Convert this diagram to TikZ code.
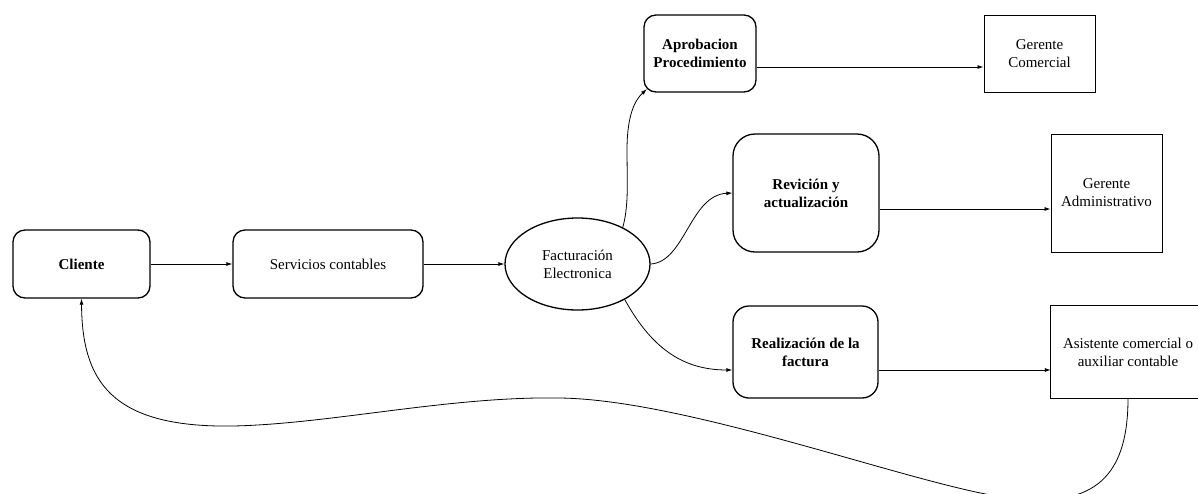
\documentclass[tikz,border=0pt]{standalone}
\usepackage{fontspec}
\setmainfont{Liberation Serif}
\usetikzlibrary{arrows.meta,shapes.geometric,calc}
\begin{document}
\begin{tikzpicture}[x=1pt,y=-1pt,
  txt/.style={font=\fontsize{15}{18}\selectfont},
  bftxt/.style={font=\fontsize{15}{18}\selectfont\bfseries},
  rbox/.style={draw,line width=1.3pt,rounded corners=12pt,align=center,inner sep=2pt},
  sbox/.style={draw,line width=1pt,align=center,inner sep=2pt},
  link/.style={-{Latex[length=6pt,width=4pt]},line width=0.8pt}]
\fill[white] (0,0) rectangle (1198,493);
\useasboundingbox (0,0) rectangle (1198,493);

% main chain
\node[rbox,bftxt,minimum width=137pt,minimum height=68pt] (cli) at (81.5,264) {Cliente};
\node[rbox,txt,minimum width=190pt,minimum height=68pt] (ser) at (328,264) {Servicios contables};
\node[draw,ellipse,line width=1.3pt,txt,align=center,inner sep=0pt,
      minimum width=145pt,minimum height=92pt] (fac) at (577.5,264) {Facturación\\Electronica};

% process steps
\node[rbox,bftxt,minimum width=112pt,minimum height=77pt] (apr) at (700,53.5) {Aprobacion\\Procedimiento};
\node[rbox,bftxt,rounded corners=22pt,minimum width=146pt,minimum height=118pt] (rev) at (806,193) {Revición y\\actualización};
\node[rbox,bftxt,rounded corners=16pt,minimum width=145pt,minimum height=92pt] (rea) at (805.5,352) {Realización de la\\factura};

% responsible roles
\node[sbox,txt,minimum width=111pt,minimum height=77pt] (gco) at (1039.5,53.5) {Gerente\\Comercial};
\node[sbox,txt,minimum width=111pt,minimum height=118pt] (gad) at (1106.5,193) {Gerente\\Administrativo};
\node[txt,align=center,inner sep=2pt,minimum width=154pt,minimum height=92pt] (asi) at (1128,352) {Asistente comercial o\\auxiliar contable};
% this box runs on past the right edge, so only three sides are drawn
\draw[line width=1pt] ([xshift=60pt]asi.north east) -- (asi.north west)
  -- (asi.south west) -- ([xshift=60pt]asi.south east);

% straight links
\draw[link] (cli) -- (ser);
\draw[link] (ser) -- (fac);
\draw[link] ([yshift=-13.5pt]apr.east) -- ([yshift=-13.5pt]gco.west);
\draw[link] ([yshift=-16pt]rev.east) -- ([yshift=-16pt]gad.west);
\draw[link] ([yshift=-18pt]rea.east) -- ([yshift=-18pt]asi.west);

% curved links out of the ellipse
\draw[link] (fac.39) .. controls (629,205) and (627,180) .. (627,150)
  .. controls (627,115) and (635,100) .. ($(apr.south west)+(3.5,-3.5)$);
\draw[link] (fac.east) .. controls (685,262) and (690,195) .. (rev.west);
\draw[link] (fac.-37) .. controls (650,345) and (680,370) .. ([yshift=-18pt]rea.west);

% return loop to the client
\draw[link] (asi.south) .. controls (1128,470) and (1100,505) .. (1025,499)
  .. controls (950,499) and (700,400) .. (560,398)
  .. controls (450,396) and (330,424) .. (233,426)
  .. controls (110,428) and (82,380) .. (cli.south);
\end{tikzpicture}
\end{document}
